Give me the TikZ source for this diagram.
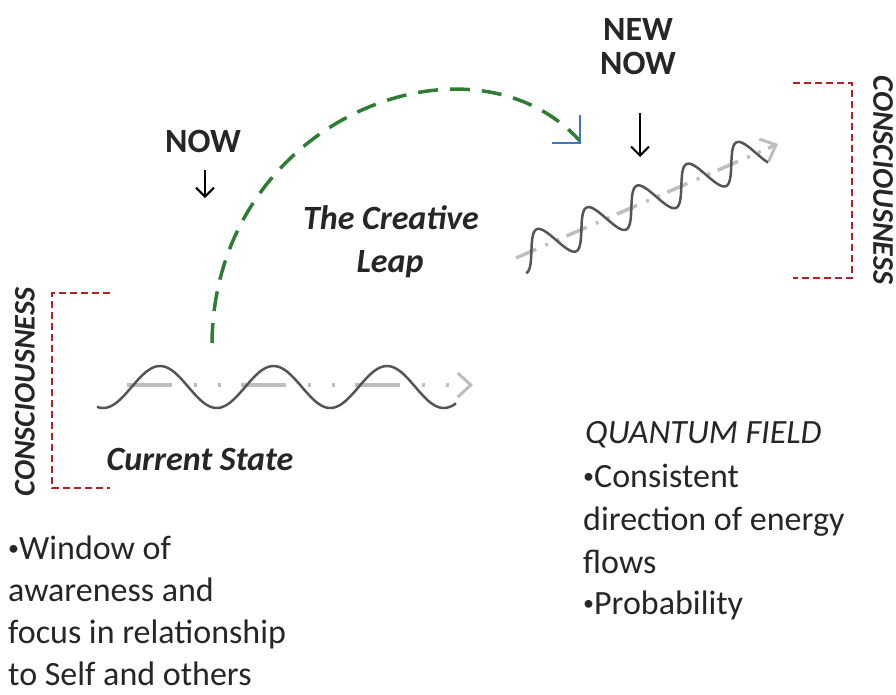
\documentclass[tikz,border=0pt]{standalone}
\usepackage{fontspec}
\setmainfont{Carlito}
\usetikzlibrary{arrows.meta}
\definecolor{leapgreen}{RGB}{46,125,50}
\definecolor{tipblue}{RGB}{68,114,196}
\definecolor{brred}{RGB}{178,34,34}
\definecolor{axisgray}{RGB}{190,190,190}
\definecolor{wavegray}{RGB}{85,85,85}
\newcommand\smbul{\raisebox{4pt}{\fontsize{22}{22}\selectfont•}}
\tikzset{
  txt/.style={inner sep=0pt, font=\fontsize{34}{43}\selectfont, text=black!85},
  boldtxt/.style={txt, font=\fontsize{34}{43}\selectfont\bfseries},
  bitxt/.style={txt, font=\fontsize{34}{43}\selectfont\bfseries\itshape},
  constxt/.style={inner sep=0pt, font=\fontsize{30}{36}\selectfont\bfseries\itshape, text=black!85},
  bracket/.style={draw=brred, line width=2.5pt, dash pattern=on 7pt off 4pt},
  wave/.style={draw=wavegray, line width=2.5pt},
  axisline/.style={draw=axisgray, line width=3.5pt, -{Straight Barb[length=13pt,width=24pt,line width=3pt]}},
  nowarrow/.style={draw=black, line width=2pt, -{Straight Barb[length=9pt,width=18pt,line width=2pt]}},
  leap/.style={draw=leapgreen, line width=3.5pt, dash pattern=on 20pt off 12pt}
}
\begin{document}
\begin{tikzpicture}[x=1pt,y=-1pt]
\useasboundingbox (0,0) rectangle (896,694);

% NOW labels and arrows
\node[boldtxt, anchor=base] (now) at (203,152) {NOW};
\coordinate (nowa) at (205,170);
\coordinate (nowb) at (205,198);
\draw[nowarrow] (nowa) -- (nowb);

\node[boldtxt, anchor=base] (new) at (638,40) {NEW};
\node[boldtxt, anchor=base] (newnow) at (638,74) {NOW};
\coordinate (newa) at (640,113);
\coordinate (newb) at (640,157);
\draw[nowarrow] (newa) -- (newb);

% creative leap
\node[bitxt, anchor=base] (leap1) at (391,229) {The Creative};
\node[bitxt, anchor=base] (leap2) at (390,272) {Leap};

% lower wave
\coordinate (la) at (127,385);
\coordinate (lb) at (473,385);
\draw[axisline, dash pattern=on 45pt off 22pt on 3pt off 21pt on 3pt off 20pt] (la) -- (lb);
\draw[wave] plot[domain=97:456, samples=180, smooth] (\x,{387-21*cos(3.1718*(\x-160))});

% upper wave
\coordinate (ua) at (516,258);
\coordinate (ub) at (778,144);
\draw[axisline, dash pattern=on 22pt off 10pt on 3pt off 9pt on 3pt off 8pt] (ua) -- (ub);
\draw[wave] plot[domain=1:267, samples=200, smooth]
  ({518+0.917*\x+0.399*18*cos(6.606*(\x-1))},{257-0.399*\x+0.917*18*cos(6.606*(\x-1))});

% leap arc
\coordinate (ls) at (212,343);
\coordinate (le) at (580,141);
\draw[leap] (ls) .. controls (214,120) and (470,20) .. (le);
\draw[draw=tipblue, line width=2pt] (552,143) -- (580,143) -- (580,115);

% brackets
\draw[bracket] (110,293) -- (52,293) -- (52,488) -- (110,488);
\draw[bracket] (793,83) -- (852,83) -- (852,278) -- (793,278);
\node[constxt, rotate=90] (consl) at (25,392) {CONSCIOUSNESS};
\node[constxt, rotate=-90] (consr) at (883,180) {CONSCIOUSNESS};

% current state
\node[bitxt, anchor=base] (cur) at (200,470) {Current State};

% left text
\node[txt, anchor=base west] (w1) at (8,559) {\smbul Window of};
\node[txt, anchor=base west] (w2) at (8,601) {awareness and};
\node[txt, anchor=base west] (w3) at (8,643) {focus in relationship};
\node[txt, anchor=base west] (w4) at (8,685) {to Self and others};

% right text
\node[txt, anchor=base west, font=\fontsize{34}{43}\selectfont\itshape] (q0) at (585,443) {QUANTUM FIELD};
\node[txt, anchor=base west] (q1) at (583,487) {\smbul Consistent};
\node[txt, anchor=base west] (q2) at (583,530) {direction of energy};
\node[txt, anchor=base west] (q3) at (583,573) {flows};
\node[txt, anchor=base west] (q4) at (583,614) {\smbul Probability};
\end{tikzpicture}
\end{document}
